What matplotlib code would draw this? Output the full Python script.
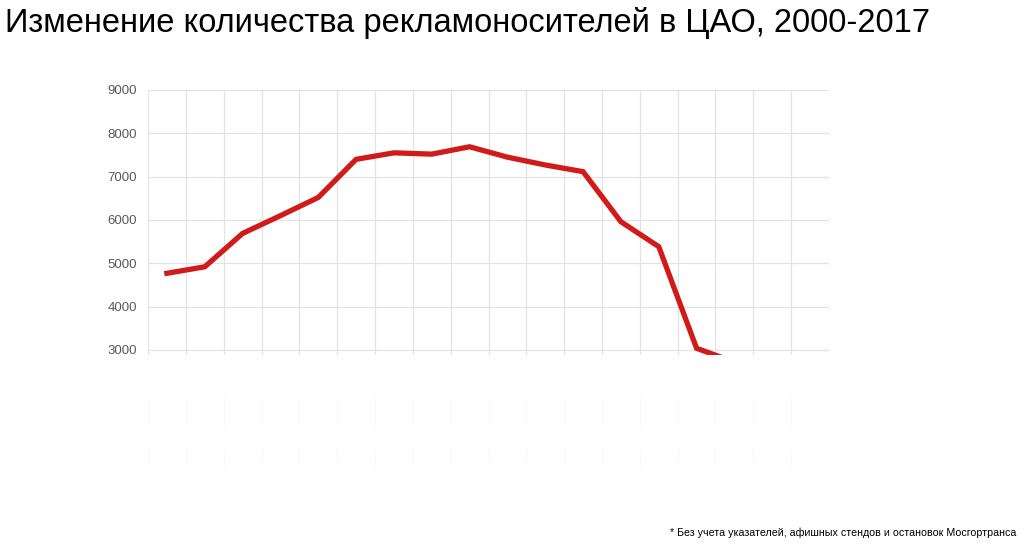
import numpy as np
import matplotlib.pyplot as plt
from matplotlib.patches import Rectangle

# -----------------------------------
# DATA
# -----------------------------------
years = list(range(2000, 2018))
values = [4770, 4920, 5690, 6100, 6520, 7400, 7550, 7520, 7690,
          7450, 7270, 7115, 5960, 5385, 3040, 2720]
y_ticks = [3000, 4000, 5000, 6000, 7000, 8000, 9000]

title = "Изменение количества рекламоносителей в ЦАО, 2000-2017"
note = "* Без учета указателей, афишных стендов и остановок Мосгортранса"

plt.rcParams['font.family'] = ['Liberation Sans', 'DejaVu Sans']

# -----------------------------------
# FIGURE
# -----------------------------------
fig = plt.figure(figsize=(10.24, 5.47), dpi=100)
ax = fig.add_axes([148 / 1024, 1 - 480 / 547, 681 / 1024, 390 / 547])

x = np.arange(len(values))
ax.plot(x, values, color="#D11A1A", lw=3.8, solid_joinstyle="miter", zorder=3)

ax.set_xlim(-0.5, len(years) - 0.5)
ax.set_ylim(0, 9000)
ax.set_yticks(y_ticks)
ax.set_yticklabels([str(v) for v in y_ticks])
ax.set_xticks(np.arange(-0.5, len(years)), minor=True)
ax.set_xticks([])
ax.grid(True, which="minor", axis="x", color="#E3E3E3", lw=0.9)
ax.grid(True, which="major", axis="y", color="#E3E3E3", lw=0.9)
ax.tick_params(axis="y", length=0, pad=8, labelsize=9.5, labelcolor="#595959")
ax.tick_params(axis="x", which="both", length=0)
for s in ax.spines.values():
    s.set_visible(False)

# white mask over the lower part of the chart
mask_kw = dict(transform=fig.transFigure, color="white", lw=0, zorder=10)
fig.add_artist(Rectangle((88 / 1024, 1 - 490 / 547), 760 / 1024, 135 / 547,
                         alpha=0.85, **mask_kw))
fig.add_artist(Rectangle((88 / 1024, 1 - 396 / 547), 760 / 1024, 41 / 547,
                         **mask_kw))
fig.add_artist(Rectangle((88 / 1024, 1 - 449 / 547), 760 / 1024, 21 / 547,
                         **mask_kw))
fig.add_artist(Rectangle((88 / 1024, 1 - 490 / 547), 760 / 1024, 22 / 547,
                         **mask_kw))

fig.text(5 / 1024, 1 - 23 / 547, title, fontsize=23.5, color="black",
         va="center", ha="left")
fig.text(1016 / 1024, 1 - 533 / 547, note, fontsize=7.7, color="black",
         va="center", ha="right", family=["Liberation Sans Narrow", "Liberation Sans"])

fig.savefig("out.png", dpi=100)
